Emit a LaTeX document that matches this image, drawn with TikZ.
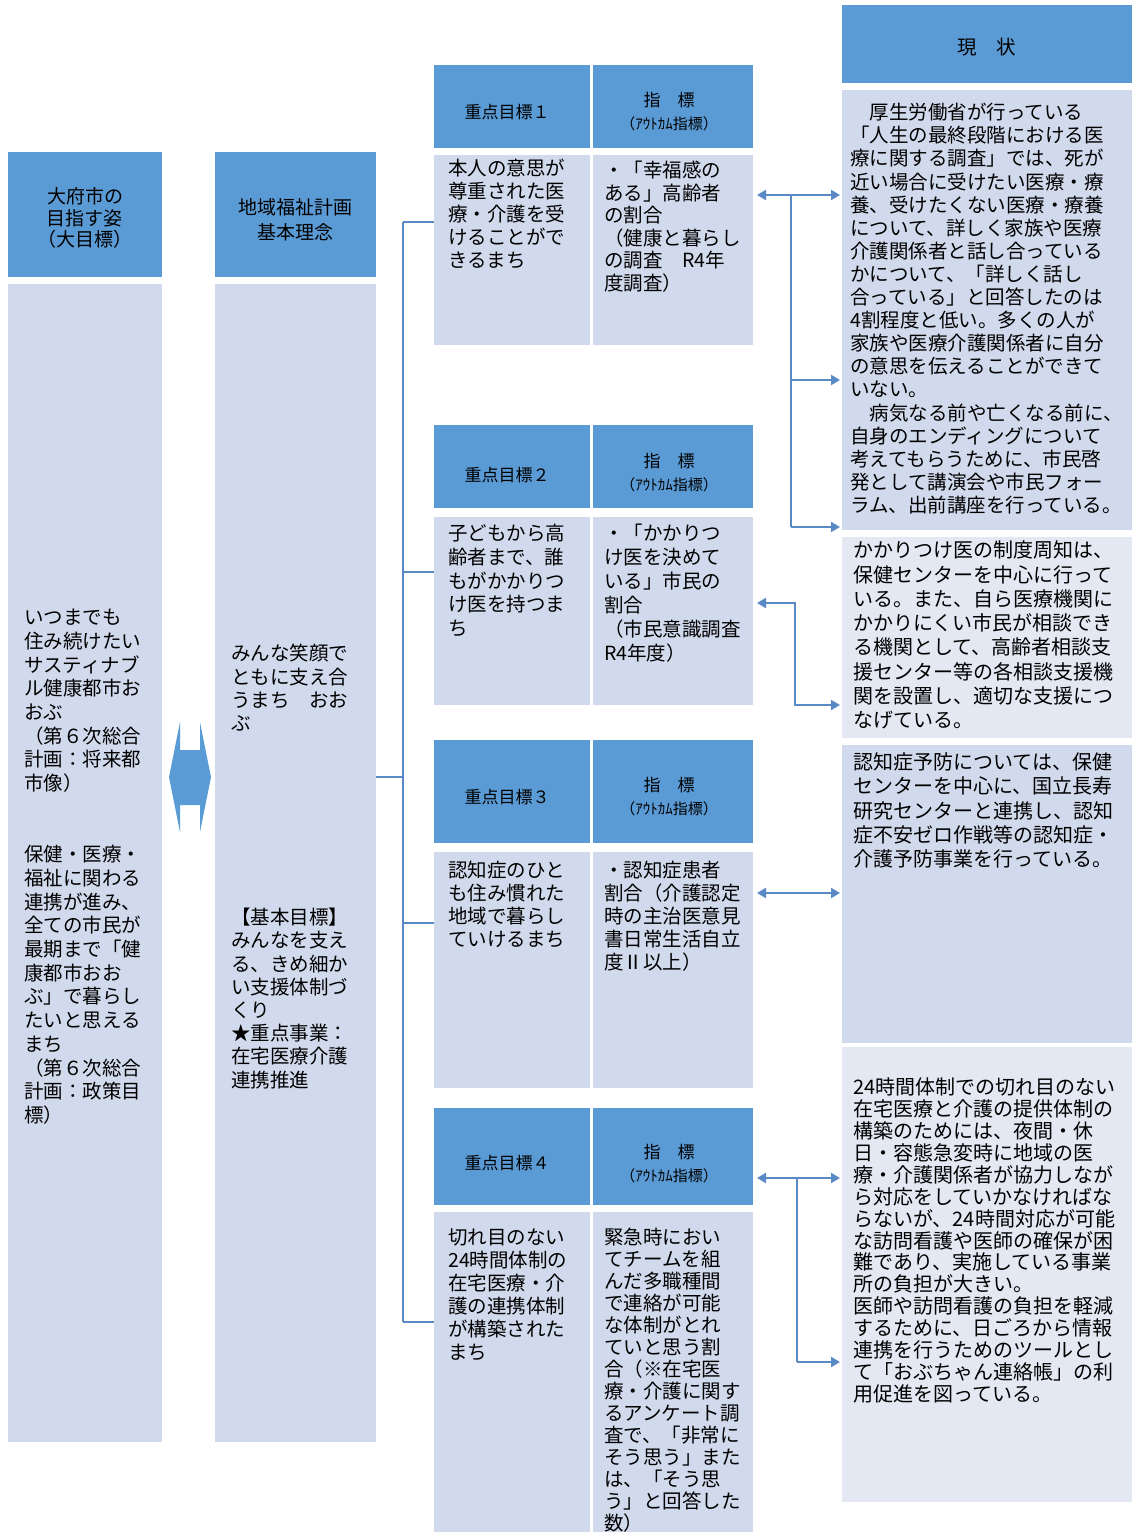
\documentclass[tikz,border=0pt]{standalone}
\usepackage{fontspec}
\setmainfont{Noto Sans CJK JP}
\usetikzlibrary{arrows.meta}
\definecolor{hdr}{HTML}{5B9BD5}
\definecolor{bdy}{HTML}{D1DAEC}
\definecolor{bdyl}{HTML}{E3E8F2}
\definecolor{lnk}{HTML}{5A8AC6}
\newcommand\fsz[2]{\fontsize{#1}{#2}\selectfont}
\newcommand\tstrut{\rule{0pt}{18pt}}
\begin{document}
\begin{tikzpicture}[x=1pt,y=-1pt,
  box/.style={anchor=north west,inner sep=0pt,outer sep=0pt},
  hbox/.style={box,fill=hdr},
  bbox/.style={box,fill=bdy},
  lbox/.style={box,fill=bdyl},
  txt/.style={anchor=north west,inner sep=0pt,align=left,text=black},
  htxt/.style={anchor=center,inner sep=0pt,align=center,text=black},
  conn/.style={draw=lnk,line width=2pt},
  arr/.style={draw=lnk,line width=2.2pt,-{Triangle[length=9pt,width=10pt]},shorten >=2pt},
  darr/.style={draw=lnk,line width=2.2pt,{Triangle[length=9pt,width=10pt]}-{Triangle[length=9pt,width=10pt]},shorten <=4pt,shorten >=2pt},
]
\fill[white] (0,0) rectangle (1132,1532);
\useasboundingbox (0,0) rectangle (1132,1532);

% columns 1 and 2
\node[hbox,minimum width=154pt,minimum height=125pt] (c1h) at (8,152) {};
\node[bbox,minimum width=154pt,minimum height=1158pt] (c1b) at (8,284) {};
\node[hbox,minimum width=161pt,minimum height=125pt] (c2h) at (215,152) {};
\node[bbox,minimum width=161pt,minimum height=1158pt] (c2b) at (215,284) {};

\node[htxt,font=\fsz{19}{21.5}] (c1ht) at (85,218) {大府市の\\目指す姿\\（大目標）};
\node[htxt,font=\fsz{19}{25}] (c2ht) at (295,219.5) {地域福祉計画\\基本理念};

\node[txt,font=\fsz{19.5}{23.7}] (c1t) at (24,606.5) {\tstrut いつまでも\\住み続けたい\\サスティナブ\\ル健康都市お\\おぶ\\（第６次総合\\計画：将来都\\市像）\\[47.4pt]保健・医療・\\福祉に関わる\\連携が進み、\\全ての市民が\\最期まで「健\\康都市おお\\ぶ」で暮らし\\たいと思える\\まち\\（第６次総合\\計画：政策目\\標）};

\node[txt,font=\fsz{19.5}{23.3}] (c2ta) at (231,642.5) {\tstrut みんな笑顔で\\ともに支え合\\うまち　おお\\ぶ};
\node[txt,font=\fsz{19.5}{23.2}] (c2tb) at (231,906.5) {\tstrut 【基本目標】\\みんなを支え\\る、きめ細か\\い支援体制づ\\くり\\★重点事業：\\在宅医療介護\\連携推進};

% double arrow between columns
\path[fill=hdr] (169,777) -- (180,722) -- (180,750) -- (200,750) -- (200,722) -- (211,777)
  -- (200,832) -- (200,805) -- (180,805) -- (180,832) -- cycle;

% goal 1
\node[hbox,minimum width=156pt,minimum height=83pt] (g1lh) at (434,65) {};
\node[hbox,minimum width=160pt,minimum height=83pt] (g1rh) at (593,65) {};
\node[bbox,minimum width=156pt,minimum height=190pt] (g1l) at (434,155) {};
\node[bbox,minimum width=160pt,minimum height=190pt] (g1r) at (593,155) {};
% goal 2
\node[hbox,minimum width=156pt,minimum height=83pt] (g2lh) at (434,425) {};
\node[hbox,minimum width=160pt,minimum height=83pt] (g2rh) at (593,425) {};
\node[bbox,minimum width=156pt,minimum height=188pt] (g2l) at (434,517) {};
\node[bbox,minimum width=160pt,minimum height=188pt] (g2r) at (593,517) {};
% goal 3
\node[hbox,minimum width=156pt,minimum height=103pt] (g3lh) at (434,740) {};
\node[hbox,minimum width=160pt,minimum height=103pt] (g3rh) at (593,740) {};
\node[bbox,minimum width=156pt,minimum height=236pt] (g3l) at (434,852) {};
\node[bbox,minimum width=160pt,minimum height=236pt] (g3r) at (593,852) {};
% goal 4
\node[hbox,minimum width=156pt,minimum height=97pt] (g4lh) at (434,1108) {};
\node[hbox,minimum width=160pt,minimum height=97pt] (g4rh) at (593,1108) {};
\node[bbox,minimum width=156pt,minimum height=320pt] (g4l) at (434,1212) {};
\node[bbox,minimum width=160pt,minimum height=320pt] (g4r) at (593,1212) {};

% goal header texts
\node[htxt,font=\fsz{17}{20}] (g1lht) at (507,112) {重点目標１};
\node[htxt,font=\fsz{17}{20}] (g2lht) at (507,475) {重点目標２};
\node[htxt,font=\fsz{17}{20}] (g3lht) at (507,797) {重点目標３};
\node[htxt,font=\fsz{17}{20}] (g4lht) at (507,1163) {重点目標４};
\node[htxt,font=\fsz{17}{23}] (g1rht) at (669,112) {指　標\\{\fsz{15}{23}（ｱｳﾄｶﾑ指標）}};
\node[htxt,font=\fsz{17}{23}] (g2rht) at (669,473) {指　標\\{\fsz{15}{23}（ｱｳﾄｶﾑ指標）}};
\node[htxt,font=\fsz{17}{23}] (g3rht) at (669,797) {指　標\\{\fsz{15}{23}（ｱｳﾄｶﾑ指標）}};
\node[htxt,font=\fsz{17}{23}] (g4rht) at (669,1164) {指　標\\{\fsz{15}{23}（ｱｳﾄｶﾑ指標）}};

% goal body texts
\node[txt,font=\fsz{19.5}{23}] (g1lt) at (448,157.5) {\tstrut 本人の意思が\\尊重された医\\療・介護を受\\けることがで\\きるまち};
\node[txt,font=\fsz{19.5}{22.5}] (g1rt) at (604,159.5) {\tstrut ・「幸福感の\\ある」高齢者\\の割合\\（健康と暮らし\\の調査　R4年\\度調査）};
\node[txt,font=\fsz{19.5}{23.7}] (g2lt) at (448,522.5) {\tstrut 子どもから高\\齢者まで、誰\\もがかかりつ\\け医を持つま\\ち};
\node[txt,font=\fsz{19.5}{24}] (g2rt) at (604,522.5) {\tstrut ・「かかりつ\\け医を決めて\\いる」市民の\\割合\\（市民意識調査\\R4年度）};
\node[txt,font=\fsz{19.5}{22.9}] (g3lt) at (448,859.5) {\tstrut 認知症のひと\\も住み慣れた\\地域で暮らし\\ていけるまち};
\node[txt,font=\fsz{19.5}{22.9}] (g3rt) at (604,859.5) {\tstrut ・認知症患者\\割合（介護認定\\時の主治医意見\\書日常生活自立\\度Ⅱ以上）};
\node[txt,font=\fsz{19.5}{23}] (g4lt) at (448,1226.5) {\tstrut 切れ目のない\\24時間体制の\\在宅医療・介\\護の連携体制\\が構築された\\まち};
\node[txt,font=\fsz{19.5}{22}] (g4rt) at (604,1226.5) {\tstrut 緊急時におい\\てチームを組\\んだ多職種間\\で連絡が可能\\な体制がとれ\\ていと思う割\\合（※在宅医\\療・介護に関す\\るアンケート調\\査で、「非常に\\そう思う」また\\は、「そう思\\う」と回答した\\数）};

% status column
\node[hbox,minimum width=290pt,minimum height=78pt] (sh) at (842,5) {};
\node[bbox,minimum width=290pt,minimum height=440pt] (s1) at (842,90) {};
\node[lbox,minimum width=290pt,minimum height=201pt] (s2) at (842,537) {};
\node[bbox,minimum width=290pt,minimum height=298pt] (s3) at (842,745) {};
\node[lbox,minimum width=290pt,minimum height=455pt] (s4) at (842,1047) {};

\node[htxt,font=\fsz{19.5}{22}] (sht) at (987,47) {現　状};
\node[txt,font=\fsz{19.5}{23.1}] (s1t) at (850,101.5) {\tstrut 　厚生労働省が行っている\\「人生の最終段階における医\\療に関する調査」では、死が\\近い場合に受けたい医療・療\\養、受けたくない医療・療養\\について、詳しく家族や医療\\介護関係者と話し合っている\\かについて、「詳しく話し\\合っている」と回答したのは\\4割程度と低い。多くの人が\\家族や医療介護関係者に自分\\の意思を伝えることができて\\いない。\\　病気なる前や亡くなる前に、\\自身のエンディングについて\\考えてもらうために、市民啓\\発として講演会や市民フォー\\ラム、出前講座を行っている。};
\node[txt,font=\fsz{20}{24.3}] (s2t) at (853,539.5) {\tstrut かかりつけ医の制度周知は、\\保健センターを中心に行って\\いる。また、自ら医療機関に\\かかりにくい市民が相談でき\\る機関として、高齢者相談支\\援センター等の各相談支援機\\関を設置し、適切な支援につ\\なげている。};
\node[txt,font=\fsz{20}{24.2}] (s3t) at (853,751.5) {\tstrut 認知症予防については、保健\\センターを中心に、国立長寿\\研究センターと連携し、認知\\症不安ゼロ作戦等の認知症・\\介護予防事業を行っている。};
\node[txt,font=\fsz{20}{21.9}] (s4t) at (853,1076.5) {\tstrut 24時間体制での切れ目のない\\在宅医療と介護の提供体制の\\構築のためには、夜間・休\\日・容態急変時に地域の医\\療・介護関係者が協力しなが\\ら対応をしていかなければな\\らないが、24時間対応が可能\\な訪問看護や医師の確保が困\\難であり、実施している事業\\所の負担が大きい。\\医師や訪問看護の負担を軽減\\するために、日ごろから情報\\連携を行うためのツールとし\\て「おぶちゃん連絡帳」の利\\用促進を図っている。};

% left tree connectors
\coordinate (tt) at (403,222);
\coordinate (t2) at (403,572);
\coordinate (tm) at (403,777);
\coordinate (t3) at (403,923);
\coordinate (tb) at (403,1322);
\draw[conn] (tt) -- (tb);
\draw[conn] (c2b.east |- tm) -- (tm);
\draw[conn] (tt) -- (g1l.west |- tt);
\draw[conn] (t2) -- (g2l.west |- t2);
\draw[conn] (t3) -- (g3l.west |- t3);
\draw[conn] (tb) -- (g4l.west |- tb);

% right connectors
\coordinate (r1) at (791,195);
\coordinate (r1b) at (791,380);
\coordinate (r1c) at (791,527);
\draw[darr] (g1r.east |- r1) -- (s1.west |- r1);
\draw[conn] (r1) -- (r1c);
\draw[arr] (r1b) -- (s1.west |- r1b);
\draw[arr] (r1c) -- (s1.west |- r1c);

\coordinate (r2) at (795,603);
\coordinate (r2b) at (795,705);
\draw[darr] (g2r.east |- r2) -- (r2) -- (r2b) -- (s2.west |- r2b);

\coordinate (r3) at (800,893);
\draw[darr] (g3r.east |- r3) -- (s3.west |- r3);

\coordinate (r4) at (797,1178);
\coordinate (r4b) at (797,1362);
\draw[darr] (g4rh.east |- r4) -- (s4.west |- r4);
\draw[conn] (r4) -- (r4b);
\draw[arr] (r4b) -- (s4.west |- r4b);
\end{tikzpicture}
\end{document}
